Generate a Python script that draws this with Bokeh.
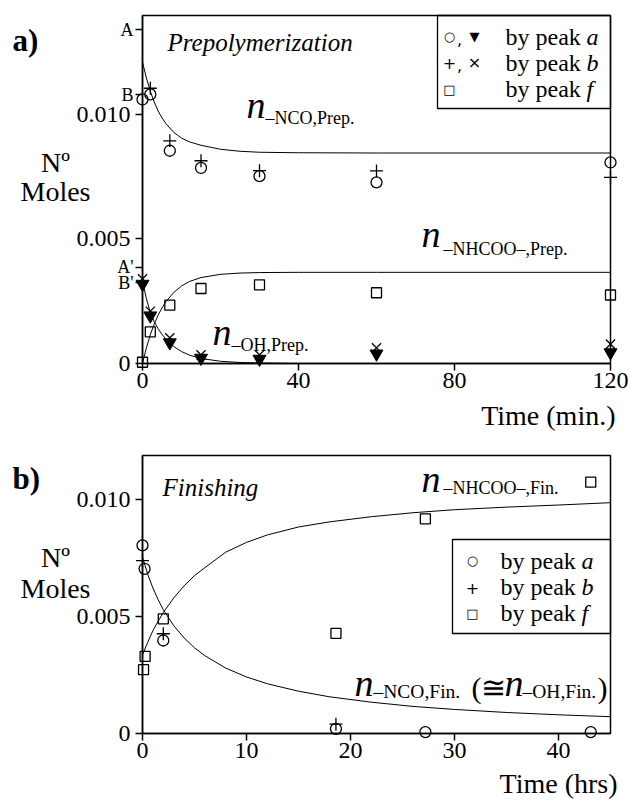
from bokeh.plotting import figure
from bokeh.models import Label, BoxAnnotation, FixedTicker, Range1d
from bokeh.layouts import column
from bokeh.embed import file_html
from bokeh.resources import INLINE

SERIF = "Liberation Serif"
SYM = "DejaVu Sans"

# ---------------- (a) Prepolymerization, time in minutes ----------------
t_prep = [0, 2, 7, 15, 30, 60, 120]
nco_peak_a_prep = [0.01060, 0.01080, 0.00854, 0.00785, 0.00752, 0.00727, 0.00807]
t_prep_b = [2, 7, 15, 30, 60, 120]
nco_peak_b_prep = [0.01105, 0.00894, 0.00814, 0.00774, 0.00773, 0.00747]
oh_peak_a_prep = [0.00319, 0.00192, 0.00084, 0.00022, 0.00018, 0.00039, 0.00044]
oh_peak_b_prep = [0.00340, 0.00210, 0.00103, 0.00035, 0.00035, 0.00063, 0.00078]
nhcoo_peak_f_prep = [0.00005, 0.00127, 0.00234, 0.00301, 0.00316, 0.00284, 0.00275]

fit_t_prep = [0, 1, 2, 3, 4, 5, 6, 8, 10, 12, 15, 20, 25, 30, 40, 60, 120]
fit_nco_prep = [0.01210, 0.01146, 0.01093, 0.01050, 0.01014, 0.00986, 0.00963, 0.00928,
                0.00905, 0.00890, 0.00876, 0.00860, 0.00852, 0.00848, 0.00846, 0.00845, 0.00845]
fit_nhcoo_prep = [0.0, 0.00063, 0.00115, 0.00158, 0.00194, 0.00223, 0.00248, 0.00285,
                  0.00311, 0.00329, 0.00345, 0.00358, 0.00363, 0.00365, 0.00366, 0.00366, 0.00366]
fit_t_oh = [0, 1, 2, 3, 4, 5, 6, 8, 10, 12, 15, 20, 25, 30, 40]
fit_oh_prep = [0.00330, 0.00260, 0.00205, 0.00168, 0.00140, 0.00117, 0.00098, 0.00068,
               0.00048, 0.00034, 0.00020, 0.00009, 0.00004, 0.00002, 0.0]

ref_names = ["A", "B", "A'", "B'"]
ref_levels = [0.01339, 0.01079, 0.00386, 0.00325]
prep_xticks = [0, 40, 80, 120]
prep_yticks = [0, 0.005, 0.01]
prep_ylabels = ["0", "0.005", "0.010"]

# ---------------- (b) Finishing, time in hours ----------------
t_fin_a = [0, 0.2, 2, 18.6, 27.2, 43.1]
nco_peak_a_fin = [0.00805, 0.00705, 0.00398, 0.00020, 0.00006, 0.00006]
t_fin_b = [0, 2, 18.6]
nco_peak_b_fin = [0.00740, 0.00427, 0.00040]
t_fin_f = [0.1, 0.25, 2, 18.6, 27.2, 43.1]
nhcoo_peak_f_fin = [0.00273, 0.00330, 0.00491, 0.00429, 0.00919, 0.01076]

fit_t_fin = [0, 0.5, 1, 1.5, 2, 3, 4, 5, 6, 8, 10, 12, 15, 18, 22, 26, 30, 35, 40, 45]
fit_nco_fin = [0.00754, 0.00682, 0.00623, 0.00573, 0.00530, 0.00462, 0.00409, 0.00367,
               0.00333, 0.00280, 0.00242, 0.00213, 0.00181, 0.00157, 0.00134, 0.00116,
               0.00103, 0.00090, 0.00080, 0.00072]
fit_nhcoo_fin = [0.00337, 0.00390, 0.00440, 0.00480, 0.00518, 0.00580, 0.00632, 0.00676,
                 0.00710, 0.00776, 0.00818, 0.00850, 0.00884, 0.00906, 0.00928, 0.00945,
                 0.00958, 0.00969, 0.00978, 0.00988]
fin_xticks = [0, 10, 20, 30, 40]
fin_yticks = [0, 0.005, 0.01]
fin_ylabels = ["0", "0.005", "0.010"]

XMAX_T = 120
YMAX_T = 0.01397
XMAX_B = 45
YMAX_B = 0.0119

# page-pixel -> data helpers (plot box: x 142..610 px; top panel y 15..363, bottom 455..733)
def TX(px):
    return (px - 142) / 468 * XMAX_T


def TY(py):
    return (363 - py) / 348 * YMAX_T


def BX(px):
    return (px - 142) / 468 * XMAX_B


def BY(py):
    return (733 - py) / 278 * YMAX_B


def make_fig(height, fx, fy, top_px, bot_px, xmax, ymax, xticks, yticks, overrides):
    # the frame covers the whole canvas; axes are pinned at x=0 / y=0
    p = figure(width=630, height=height,
               x_range=Range1d(fx(0), fx(630)), y_range=Range1d(fy(bot_px), fy(top_px)),
               output_backend="svg", toolbar_location=None, min_border=0)
    p.title.visible = False
    p.xgrid.visible = False
    p.ygrid.visible = False
    p.outline_line_color = None
    p.background_fill_color = "white"
    p.border_fill_color = "white"
    p.xaxis.ticker = FixedTicker(ticks=xticks)
    p.yaxis.ticker = FixedTicker(ticks=yticks)
    p.yaxis.major_label_overrides = overrides
    p.xaxis.fixed_location = 0
    p.yaxis.fixed_location = 0
    p.xaxis.bounds = (0, xmax)
    p.yaxis.bounds = (0, ymax)
    for ax in (p.xaxis[0], p.yaxis[0]):
        ax.axis_line_width = 1.5
        ax.axis_line_color = "black"
        ax.major_tick_line_width = 1.5
        ax.major_tick_line_color = "black"
        ax.major_tick_out = 7
        ax.major_tick_in = 0
        ax.minor_tick_out = 0
        ax.minor_tick_in = 0
        ax.major_label_text_font = SERIF
        ax.major_label_text_font_size = "24px"
        ax.major_label_text_color = "black"
    p.xaxis.major_label_standoff = 2
    p.yaxis.major_label_standoff = 5
    # plot box
    p.add_layout(BoxAnnotation(left=0, right=xmax, bottom=0, top=ymax, fill_alpha=0.0,
                               line_color="black", line_alpha=1.0, line_width=1.5))
    return p


def lab(p, fx, fy, px, py, text, size, style="normal", align="left", baseline="alphabetic",
        font=SERIF):
    # py is the intended baseline (page pixels); compensate the renderer's descent offset
    if baseline == "alphabetic":
        py = py - 0.216 * size
    p.add_layout(Label(x=fx(px), y=fy(py), text=text, text_font=font,
                       text_font_size=f"{size}px", text_font_style=style,
                       text_align=align, text_baseline=baseline, text_color="black"))


# ============ panel (a) ============
ov_a = {v: s for v, s in zip(prep_yticks, prep_ylabels)}
for v in ref_levels:
    ov_a[v] = ""
pa = make_fig(435, TX, TY, 0, 435, XMAX_T, YMAX_T, prep_xticks, prep_yticks + ref_levels, ov_a)

pa.line(fit_t_prep, fit_nco_prep, line_color="black", line_width=1)
pa.line(fit_t_prep, fit_nhcoo_prep, line_color="black", line_width=1)
pa.line(fit_t_oh, fit_oh_prep, line_color="black", line_width=1)

pa.scatter(t_prep, nhcoo_peak_f_prep, marker="square", size=10, fill_color=None,
           line_color="black", line_width=1.3)
pa.scatter(t_prep, oh_peak_b_prep, marker="x", size=13, line_color="black", line_width=1.3)
pa.scatter(t_prep, oh_peak_a_prep, marker="inverted_triangle", size=13, fill_color="black",
           line_color="black")
pa.scatter(t_prep_b, nco_peak_b_prep, marker="cross", size=13, line_color="black", line_width=1.3)
pa.scatter(t_prep, nco_peak_a_prep, marker="circle", size=11, fill_color=None,
           line_color="black", line_width=1.3)

# reference-level letters on the y axis
for name, lvl in zip(ref_names, ref_levels):
    pa.add_layout(Label(x=0, y=lvl, x_offset=-9, text=name, text_font=SERIF,
                        text_font_size="18px", text_align="right", text_baseline="middle",
                        text_color="black"))

lab(pa, TX, TY, 12, 47, "a)", 31, style="bold")
lab(pa, TX, TY, 167, 47, "Prepolymerization", 25, style="italic")
lab(pa, TX, TY, 55, 168, "Nº", 28, align="center")
lab(pa, TX, TY, 55, 197, "Moles", 28, align="center")
lab(pa, TX, TY, 615, 421, "Time (min.)", 28, align="right")

lab(pa, TX, TY, 246, 113, "n", 38, style="italic")
lab(pa, TX, TY, 265, 121, "–NCO,Prep.", 18)
lab(pa, TX, TY, 421, 242, "n", 38, style="italic")
lab(pa, TX, TY, 443, 252, "–NHCOO–,Prep.", 18)
lab(pa, TX, TY, 212, 340, "n", 38, style="italic")
lab(pa, TX, TY, 231, 348, "–OH,Prep.", 18)

# legend (a)
pa.add_layout(BoxAnnotation(left=TX(437), right=TX(610), top=TY(15), bottom=TY(108),
                            fill_alpha=0.0, line_color="black", line_alpha=1.0,
                            line_width=1.3))
rows_a = [(36, 42, "a"), (62, 68, "b"), (89, 94, "f")]
sym_a = [("○", "▼"), ("+", "×"), ("□", None)]
for (cy, by, letter), (s1, s2) in zip(rows_a, sym_a):
    lab(pa, TX, TY, 449, cy, s1, 13 if s1 in "○□" else 16, align="center", baseline="middle", font=SYM)
    if s2:
        lab(pa, TX, TY, 459, by, ",", 16, align="center", font=SYM)
        lab(pa, TX, TY, 474, cy, s2, 13 if s2 == "▼" else 16, align="center", baseline="middle", font=SYM)
    lab(pa, TX, TY, 505, by, "by peak ", 24)
    lab(pa, TX, TY, 586, by, letter, 24, style="italic")

# ============ panel (b) ============
ov_b = {v: s for v, s in zip(fin_yticks, fin_ylabels)}
pb = make_fig(365, BX, BY, 435, 800, XMAX_B, YMAX_B, fin_xticks, fin_yticks, ov_b)

pb.line(fit_t_fin, fit_nco_fin, line_color="black", line_width=1)
pb.line(fit_t_fin, fit_nhcoo_fin, line_color="black", line_width=1)
pb.scatter(t_fin_f, nhcoo_peak_f_fin, marker="square", size=10, fill_color=None,
           line_color="black", line_width=1.3)
pb.scatter(t_fin_b, nco_peak_b_fin, marker="cross", size=13, line_color="black", line_width=1.3)
pb.scatter(t_fin_a, nco_peak_a_fin, marker="circle", size=11, fill_color=None,
           line_color="black", line_width=1.3)

lab(pb, BX, BY, 12, 485, "b)", 31, style="bold")
lab(pb, BX, BY, 162, 492, "Finishing", 25, style="italic")
lab(pb, BX, BY, 55, 563, "Nº", 28, align="center")
lab(pb, BX, BY, 55, 594, "Moles", 28, align="center")
lab(pb, BX, BY, 617, 789, "Time (hrs)", 28, align="right")

lab(pb, BX, BY, 421, 487, "n", 38, style="italic")
lab(pb, BX, BY, 443, 491, "–NHCOO–,Fin.", 18)
lab(pb, BX, BY, 354, 691, "n", 38, style="italic")
lab(pb, BX, BY, 373, 695, "–NCO,Fin.", 19.5)
lab(pb, BX, BY, 471, 693, "(≅", 30)
lab(pb, BX, BY, 504, 691, "n", 38, style="italic")
lab(pb, BX, BY, 522, 695, "–OH,Fin.", 19.5)
lab(pb, BX, BY, 597, 693, ")", 30)

pb.add_layout(BoxAnnotation(left=BX(452), right=BX(610), top=BY(539), bottom=BY(633),
                            fill_alpha=0.0, line_color="black", line_alpha=1.0,
                            line_width=1.3))
rows_b = [(560, 566, "a", "○"), (587, 592, "b", "+"), (613, 618, "f", "□")]
for cy, by, letter, s in rows_b:
    lab(pb, BX, BY, 472, cy, s, 13 if s in "○□" else 16, align="center", baseline="middle", font=SYM)
    lab(pb, BX, BY, 500, by, "by peak ", 24)
    lab(pb, BX, BY, 581, by, letter, 24, style="italic")

layout = column(pa, pb, spacing=0)
open("out.html", "w").write(file_html(layout, INLINE))
